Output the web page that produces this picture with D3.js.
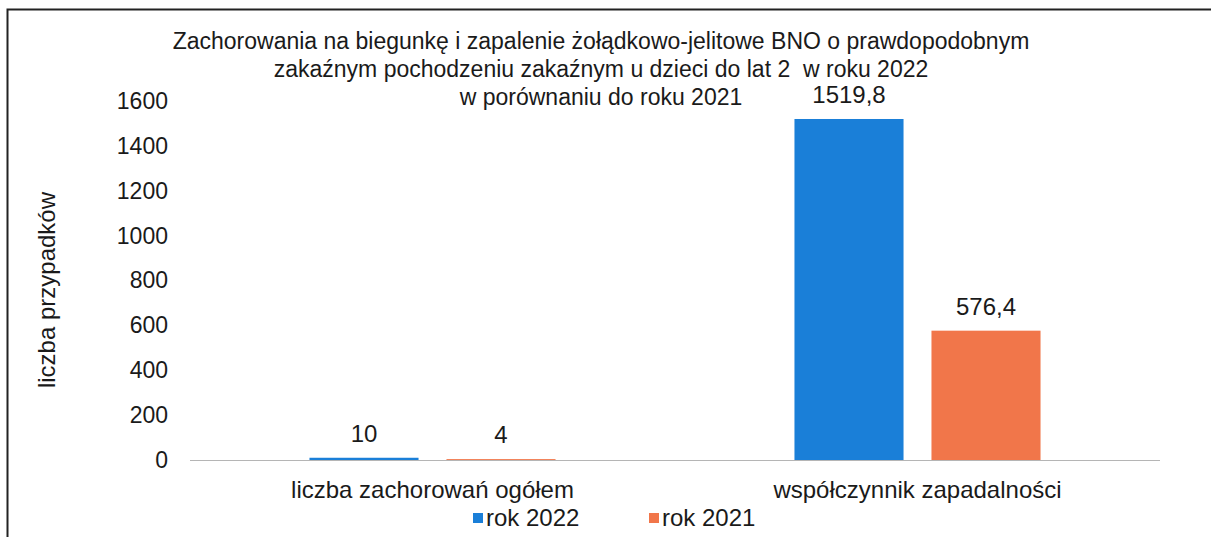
<!DOCTYPE html>
<html>
<head>
<meta charset="utf-8">
<script src="https://cdn.jsdelivr.net/npm/d3@7"></script>
<style>
  body { margin: 0; background: #fff; }
  text { font-family: "Liberation Sans", Arial, sans-serif; fill: #1a1a1a; }
  .title { white-space: pre; }
</style>
</head>
<body>
<svg id="chart" width="1211" height="537"></svg>
<script>
// data
const categories = ['liczba zachorowań ogółem', 'współczynnik zapadalności'];
const series = ['rok 2022', 'rok 2021'];
const values2022 = [10, 1519.8];
const values2021 = [4, 576.4];
const yTicks = [0, 200, 400, 600, 800, 1000, 1200, 1400, 1600];
const titleLines = [
  'Zachorowania na biegunkę i zapalenie żołądkowo-jelitowe BNO o prawdopodobnym',
  'zakaźnym pochodzeniu zakaźnym u dzieci do lat 2  w roku 2022',
  'w porównaniu do roku 2021'
];
const colors = { 'rok 2022': '#1a7fd8', 'rok 2021': '#f1764a' };

const svg = d3.select('#chart');

// frame
svg.append('path')
  .attr('d', 'M7.5,537 V9.5 H1211')
  .attr('fill', 'none')
  .attr('stroke', '#222')
  .attr('stroke-width', 2);

const x0 = d3.scaleBand().domain(categories).range([190, 1160]);
const x1 = d3.scaleBand().domain(series).range([0, x0.bandwidth()])
  .paddingInner(0.204).paddingOuter(0.872);
const y = d3.scaleLinear().domain([0, 1600]).range([460, 101]);

// y axis labels (no line)
const yAxis = svg.append('g')
  .attr('transform', 'translate(168,0)')
  .call(d3.axisLeft(y).tickValues(yTicks).tickFormat(d3.format('d')).tickSize(0).tickPadding(0));
yAxis.select('.domain').remove();
yAxis.selectAll('text')
  .attr('font-size', 23)
  .attr('font-family', '"Liberation Sans", Arial, sans-serif')
  .attr('fill', '#1a1a1a');

// baseline
svg.append('line')
  .attr('x1', 190).attr('x2', 1160)
  .attr('y1', y(0) + 0.5).attr('y2', y(0) + 0.5)
  .attr('stroke', '#b5b5b5').attr('stroke-width', 1);

const rows = categories.map((c, i) => ({
  cat: c,
  vals: [
    { s: 'rok 2022', v: values2022[i] },
    { s: 'rok 2021', v: values2021[i] }
  ]
}));

const fmt = v => String(v).replace('.', ',');

const groups = svg.selectAll('g.grp')
  .data(rows)
  .enter()
  .append('g')
  .attr('class', 'grp')
  .attr('transform', d => 'translate(' + x0(d.cat) + ',0)');

groups.selectAll('rect')
  .data(d => d.vals)
  .enter()
  .append('rect')
  .attr('x', d => x1(d.s))
  .attr('width', x1.bandwidth())
  .attr('y', d => y(d.v))
  .attr('height', d => y(0) - y(d.v))
  .attr('fill', d => colors[d.s]);

groups.selectAll('text.val')
  .data(d => d.vals)
  .enter()
  .append('text')
  .attr('class', 'val')
  .attr('x', d => x1(d.s) + x1.bandwidth() / 2)
  .attr('y', d => y(d.v) - 16)
  .attr('text-anchor', 'middle')
  .attr('font-size', 24)
  .text(d => fmt(d.v));

// category labels
svg.selectAll('text.cat')
  .data(categories)
  .enter()
  .append('text')
  .attr('class', 'cat')
  .attr('x', d => x0(d) + x0.bandwidth() / 2)
  .attr('y', 498)
  .attr('text-anchor', 'middle')
  .attr('font-size', 24)
  .text(d => d);

// y axis title
svg.append('text')
  .attr('transform', 'translate(55,290) rotate(-90)')
  .attr('text-anchor', 'middle')
  .attr('font-size', 24)
  .text('liczba przypadków');

// title
svg.append('text')
  .attr('class', 'title')
  .attr('text-anchor', 'middle')
  .attr('font-size', 23)
  .selectAll('tspan')
  .data(titleLines)
  .enter()
  .append('tspan')
  .attr('x', 601)
  .attr('y', (d, i) => 49 + i * 28)
  .text(d => d);

// legend
const legendX = [473, 649];
const legend = svg.selectAll('g.leg')
  .data(series)
  .enter()
  .append('g')
  .attr('class', 'leg')
  .attr('transform', (d, i) => 'translate(' + legendX[i] + ',526)');
legend.append('rect')
  .attr('x', 0).attr('y', -13)
  .attr('width', 10).attr('height', 10)
  .attr('fill', d => colors[d]);
legend.append('text')
  .attr('x', 13).attr('y', 0)
  .attr('font-size', 24)
  .text(d => d);
</script>
</body>
</html>
